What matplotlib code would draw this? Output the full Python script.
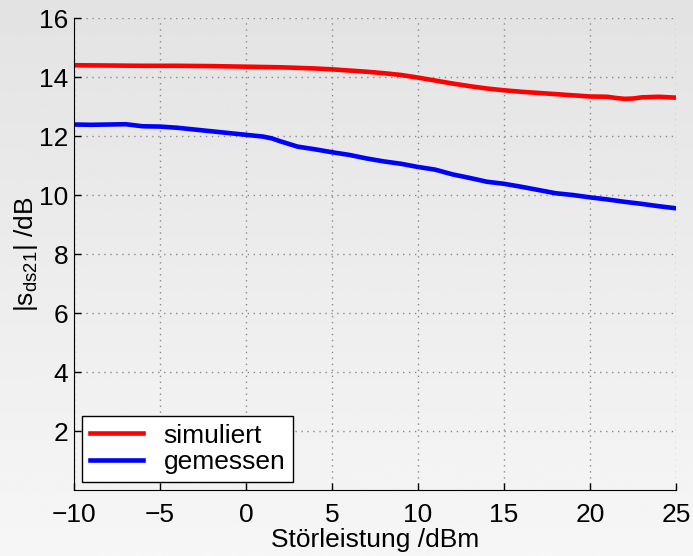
import matplotlib
matplotlib.use("Agg")
import matplotlib.pyplot as plt
import numpy as np

plt.rcParams["font.family"] = ["Liberation Sans", "DejaVu Sans"]
plt.rcParams["mathtext.fontset"] = "custom"
plt.rcParams["mathtext.rm"] = "Liberation Sans"
plt.rcParams["mathtext.it"] = "Liberation Sans:italic"

# Störleistung in dBm
power_sim = [-10, -8, -6, -4, -2, 0, 2, 4, 5, 6, 7, 8, 9, 10, 11, 12, 13, 14, 15,
             16, 17, 18, 19, 20, 21, 21.5, 22, 22.5, 23, 24, 25]
s21_sim = [14.40, 14.39, 14.38, 14.38, 14.37, 14.35, 14.33, 14.29, 14.26, 14.22,
           14.18, 14.13, 14.07, 13.98, 13.88, 13.78, 13.69, 13.61, 13.55,
           13.50, 13.46, 13.42, 13.38, 13.34, 13.33, 13.29, 13.26, 13.27, 13.31, 13.33, 13.30]

power_meas = [-10, -9, -8, -7, -6, -5, -4, -3, -2, -1, 0, 1, 1.5, 2, 3, 4, 5, 6,
              7, 8, 9, 10, 11, 12, 13, 14, 15, 16, 17, 18, 19, 20, 21, 22, 23, 24, 25]
s21_meas = [12.39, 12.38, 12.39, 12.40, 12.33, 12.32, 12.28, 12.22, 12.16, 12.10,
            12.04, 11.98, 11.92, 11.82, 11.64, 11.55, 11.45, 11.36, 11.24, 11.14,
            11.06, 10.95, 10.86, 10.70, 10.58, 10.45, 10.38, 10.28, 10.17, 10.06,
            10.00, 9.92, 9.85, 9.77, 9.70, 9.62, 9.55]

fig = plt.figure(figsize=(6.93, 5.56), dpi=100)

# grey gradient background
bg = fig.add_axes([0, 0, 1, 1], zorder=-10)
grad = np.linspace(0.89, 0.965, 256).reshape(-1, 1)
bg.imshow(grad, aspect="auto", cmap="gray", vmin=0, vmax=1, extent=[0, 1, 0, 1])
bg.axis("off")

ax = fig.add_axes([0.1068, 0.1187, 0.8687, 0.8489])
ax.set_facecolor("none")
ax.plot(power_sim, s21_sim, color="#ff0000", lw=3.3, label="simuliert")
ax.plot(power_meas, s21_meas, color="#0000ff", lw=3.3, label="gemessen")

ax.set_xlim(-10, 25)
ax.set_ylim(0, 16)
ax.set_xticks(np.arange(-10, 26, 5))
ax.set_yticks(np.arange(2, 17, 2))
ax.grid(True, linestyle=(0, (1, 3.3)), color="#8a8a8a", lw=1)
ax.spines["top"].set_visible(False)
ax.spines["right"].set_visible(False)
ax.tick_params(direction="in", length=5, labelsize=19, width=1)
ax.tick_params(axis="x", pad=9)
ax.tick_params(axis="y", pad=4)
ax.set_xlabel("Störleistung /dBm", fontsize=19, labelpad=1)
ax.set_ylabel(r"$|\mathrm{s}_{\mathrm{ds21}}|$ /dB", fontsize=19, labelpad=-1)

leg = ax.legend(loc="lower left", fontsize=19, frameon=True, fancybox=False,
                edgecolor="black", framealpha=1, handlelength=2.0,
                handletextpad=0.8, borderaxespad=0.3, labelspacing=0.1,
                borderpad=0.3)
leg.get_frame().set_linewidth(1)

fig.savefig("out.png", dpi=100)
